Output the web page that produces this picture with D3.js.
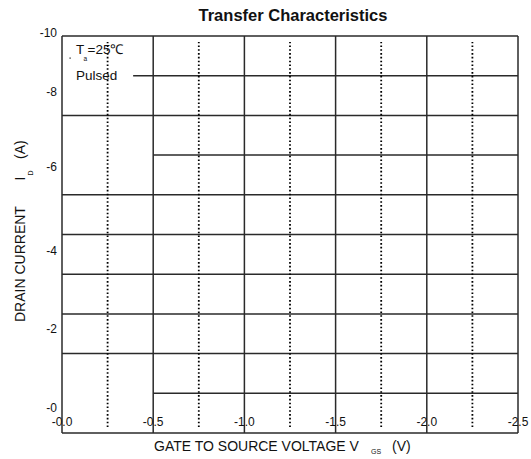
<!DOCTYPE html>
<html>
<head>
<meta charset="utf-8">
<script src="https://cdn.jsdelivr.net/npm/d3@7"></script>
<style>
  html, body { margin: 0; padding: 0; background: #fff; }
  svg { display: block; font-family: "Liberation Sans", Arial, sans-serif; }
</style>
</head>
<body>
<svg id="chart" width="531" height="459"></svg>
<script>
// Axis ticks
const vgsTicks = [0, -0.5, -1.0, -1.5, -2.0, -2.5];
const vgsTickLabels = ["-0.0", "-0.5", "-1.0", "-1.5", "-2.0", "-2.5"];
const idTicks = [-10, -8, -6, -4, -2, 0];
const idTickLabels = ["-10", "-8", "-6", "-4", "-2", "-0"];

// Horizontal grid levels (A) and the gate voltage each one starts from
const idGrid = [0, -1, -2, -3, -4, -5, -6, -7, -8, -9, -10];
const idGridStart = [0, -0.5, 0, 0, 0, 0, 0, -0.5, 0, -0.39, 0];

// Dotted traces: gate voltage of each trace and its current span
const traceVgs = [-0.25, -0.75, -1.25, -1.75, -2.25];
const traceIdSpan = [-0.15, -9.85];

const svg = d3.select("#chart");

const x = d3.scaleLinear().domain([0, -2.5]).range([62, 518]);
const y = d3.scaleLinear().domain([0, -10]).range([433, 36]);
// Tick label placement along the current axis
const yLabel = d3.scaleLinear()
  .domain([-10, -8, -6, -4, -2, 0])
  .range([33, 92, 167, 250.5, 329, 407.5]);

const gridColor = "#2a2a2a";

// Vertical grid lines
svg.append("g")
  .selectAll("line")
  .data(vgsTicks)
  .join("line")
  .attr("x1", d => x(d)).attr("x2", d => x(d))
  .attr("y1", y(0)).attr("y2", y(-10))
  .attr("stroke", gridColor)
  .attr("stroke-width", 1.5);

// Horizontal grid lines
svg.append("g")
  .selectAll("line")
  .data(idGrid)
  .join("line")
  .attr("x1", (d, i) => x(idGridStart[i])).attr("x2", x(-2.5))
  .attr("y1", d => y(d)).attr("y2", d => y(d))
  .attr("stroke", gridColor)
  .attr("stroke-width", 1.5);

// Dotted traces
svg.append("g")
  .selectAll("line")
  .data(traceVgs)
  .join("line")
  .attr("x1", d => x(d)).attr("x2", d => x(d))
  .attr("y1", y(traceIdSpan[0])).attr("y2", y(traceIdSpan[1]))
  .attr("stroke", "#000")
  .attr("stroke-width", 1.8)
  .attr("stroke-dasharray", "1.6,2.2");

// Current tick labels
svg.append("g")
  .selectAll("text")
  .data(idTicks)
  .join("text")
  .attr("x", 57)
  .attr("y", d => yLabel(d))
  .attr("dy", "0.35em")
  .attr("text-anchor", "end")
  .attr("font-size", 12)
  .attr("fill", "#111")
  .text((d, i) => idTickLabels[i]);

// Gate voltage tick labels
svg.append("g")
  .selectAll("text")
  .data(vgsTicks)
  .join("text")
  .attr("x", d => x(d))
  .attr("y", 425.5)
  .attr("text-anchor", "middle")
  .attr("font-size", 12)
  .attr("fill", "#111")
  .text((d, i) => vgsTickLabels[i]);

// Title
svg.append("text")
  .attr("x", 293).attr("y", 20.5)
  .attr("text-anchor", "middle")
  .attr("font-size", 16.5)
  .attr("font-weight", "bold")
  .attr("fill", "#111")
  .text("Transfer Characteristics");

// X axis title
const xt = svg.append("g").attr("fill", "#111");
xt.append("text").attr("x", 154).attr("y", 451).attr("font-size", 14)
  .text("GATE TO SOURCE VOLTAGE V");
xt.append("text").attr("x", 371).attr("y", 454).attr("font-size", 7)
  .text("GS");
xt.append("text").attr("x", 392).attr("y", 451).attr("font-size", 14)
  .text("(V)");

// Y axis title
const yt = svg.append("g").attr("fill", "#111");
yt.append("text").attr("transform", "translate(25,322) rotate(-90)")
  .attr("font-size", 14).text("DRAIN CURRENT");
yt.append("text").attr("transform", "translate(25,180.5) rotate(-90)")
  .attr("font-size", 14).text("I");
yt.append("text").attr("transform", "translate(32.5,175.5) rotate(-90)")
  .attr("font-size", 7).text("D");
yt.append("text").attr("transform", "translate(25,159) rotate(-90)")
  .attr("font-size", 14).text("(A)");

// Test conditions note
const note = svg.append("g").attr("fill", "#111");
note.append("text").attr("x", 76).attr("y", 53.5).attr("font-size", 13.5).text("T");
note.append("text").attr("x", 83.5).attr("y", 60.5).attr("font-size", 6.5).text("a");
note.append("text").attr("x", 87.5).attr("y", 53.5).attr("font-size", 13.5).text("=25\u2103");
note.append("text").attr("x", 76).attr("y", 80).attr("font-size", 13.5).text("Pulsed");
note.append("rect").attr("x", 69.5).attr("y", 57.5).attr("width", 1.2).attr("height", 1.2);
</script>
</body>
</html>
